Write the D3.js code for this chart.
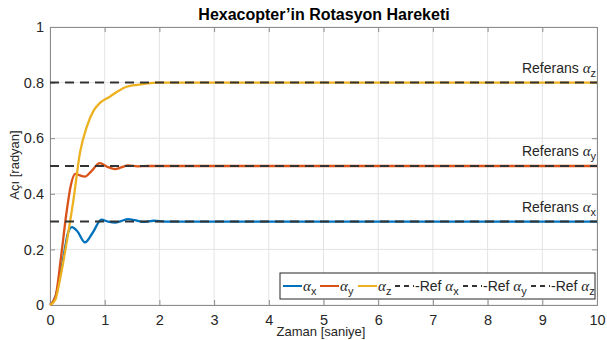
<!DOCTYPE html>
<html lang="tr">
  <head>
    <script src="https://d3js.org/d3.v7.min.js"></script>
    <meta charset="utf-8">
    <title>Hexacopter'in Rotasyon Hareketi</title>
    <style>
      body { margin: 0; background: #fff; }
      text { font-family: "Liberation Sans", Arial, sans-serif; fill: #262626; }
      .alpha { font-family: "Liberation Serif", "DejaVu Serif", serif; font-style: italic; }
    </style>
  </head>
  <body>
    <svg id="chart"></svg>

    <script type="text/javascript">

     // time (s) and angle (rad)
     var tX = [0, 0.1, 0.2, 0.27, 0.33, 0.4, 0.5, 0.64, 0.78, 0.94, 1.06, 1.19, 1.3, 1.43, 1.55, 1.7, 1.9, 2.1, 2.5, 10];
     var alphaX = [0, 0.03, 0.12, 0.2, 0.26, 0.28, 0.265, 0.225, 0.26, 0.307, 0.3, 0.296, 0.302, 0.309, 0.305, 0.299, 0.303, 0.3, 0.3, 0.3];

     var tY = [0, 0.1, 0.2, 0.3, 0.38, 0.46, 0.55, 0.64, 0.75, 0.91, 1.05, 1.19, 1.3, 1.43, 1.6, 1.8, 2.2, 10];
     var alphaY = [0, 0.03, 0.17, 0.33, 0.43, 0.472, 0.466, 0.462, 0.48, 0.51, 0.497, 0.489, 0.495, 0.502, 0.499, 0.5, 0.5, 0.5];

     var tZ = [0, 0.1, 0.18, 0.3, 0.43, 0.55, 0.67, 0.8, 0.91, 1.1, 1.25, 1.4, 1.6, 1.95, 2.5, 10];
     var alphaZ = [0, 0.02, 0.09, 0.22, 0.38, 0.55, 0.64, 0.7, 0.726, 0.75, 0.77, 0.785, 0.792, 0.8, 0.8, 0.8];

     var refs = [0.3, 0.5, 0.8];
     var refSubs = ["x", "y", "z"];
     var colors = ["#0072BD", "#D95319", "#EDB120"];

     var xTicks = [0, 1, 2, 3, 4, 5, 6, 7, 8, 9, 10];
     var yTicks = [0, 0.2, 0.4, 0.6, 0.8, 1];

     var width = 607;
     var height = 340;
     var plotLeft = 50, plotRight = 597, plotTop = 27, plotBottom = 305;

     var svg = d3.select("#chart")
       .attr("width", width)
       .attr("height", height);

     var x = d3.scaleLinear().domain([0, 10]).range([plotLeft, plotRight]);
     var y = d3.scaleLinear().domain([0, 1]).range([plotBottom, plotTop]);

     // grid
     svg.append("g").selectAll("line")
       .data(xTicks)
       .enter()
       .append("line")
       .attr("x1", function(d) { return x(d); })
       .attr("x2", function(d) { return x(d); })
       .attr("y1", plotTop)
       .attr("y2", plotBottom)
       .attr("stroke", "#e3e3e3");
     svg.append("g").selectAll("line")
       .data(yTicks)
       .enter()
       .append("line")
       .attr("x1", plotLeft)
       .attr("x2", plotRight)
       .attr("y1", function(d) { return y(d); })
       .attr("y2", function(d) { return y(d); })
       .attr("stroke", "#e3e3e3");

     // axes
     svg.append("g")
       .attr("transform", "translate(0," + plotBottom + ")")
       .call(d3.axisBottom(x).tickValues(xTicks).tickSize(-5).tickPadding(10).tickFormat(d3.format("d")));
     svg.append("g")
       .attr("transform", "translate(" + plotLeft + ",0)")
       .call(d3.axisLeft(y).tickValues(yTicks).tickSize(-5).tickPadding(6).tickFormat(function(d) { return d === 0 || d === 1 ? d : d3.format(".1f")(d); }));
     svg.append("g")
       .attr("transform", "translate(0," + plotTop + ")")
       .call(d3.axisTop(x).tickValues(xTicks).tickSize(-5).tickFormat(""));
     svg.append("g")
       .attr("transform", "translate(" + plotRight + ",0)")
       .call(d3.axisRight(y).tickValues(yTicks).tickSize(-5).tickFormat(""));

     svg.selectAll(".domain").attr("stroke", "#8c8c8c");
     svg.selectAll(".tick line").attr("stroke", "#8c8c8c");
     svg.selectAll(".tick text")
       .style("font-family", "'Liberation Sans', Arial, sans-serif")
       .style("font-size", "14.5px")
       .attr("fill", "#333");

     // curves
     var line = d3.line()
       .x(function(d) { return x(d[0]); })
       .y(function(d) { return y(d[1]); })
       .curve(d3.curveMonotoneX);

     var series = [d3.zip(tX, alphaX), d3.zip(tY, alphaY), d3.zip(tZ, alphaZ)];
     svg.append("g").selectAll("path")
       .data(series)
       .enter()
       .append("path")
       .attr("d", line)
       .attr("fill", "none")
       .attr("stroke", function(d, i) { return colors[i]; })
       .attr("stroke-width", 2.3);

     // reference lines
     svg.append("g").selectAll("line")
       .data(refs)
       .enter()
       .append("line")
       .attr("x1", x(0))
       .attr("x2", x(10))
       .attr("y1", function(d) { return y(d); })
       .attr("y2", function(d) { return y(d); })
       .attr("stroke", "#333")
       .attr("stroke-width", 2)
       .attr("stroke-dasharray", "9,6");

     // reference labels
     var refLabel = svg.append("g").selectAll("text")
       .data(refs)
       .enter()
       .append("text")
       .attr("x", plotRight - 1)
       .attr("y", function(d) { return y(d) - 10; })
       .attr("text-anchor", "end")
       .style("font-size", "14px");
     refLabel.append("tspan").text("Referans ");
     refLabel.append("tspan").attr("class", "alpha").style("font-size", "15px").text("α");
     refLabel.append("tspan").attr("dy", 4).style("font-size", "11px").text(function(d, i) { return refSubs[i]; });

     // title and axis labels
     svg.append("text")
       .attr("x", 324)
       .attr("y", 20)
       .attr("text-anchor", "middle")
       .style("font-size", "16px")
       .style("font-weight", "bold")
       .style("fill", "#000")
       .text("Hexacopter’in Rotasyon Hareketi");

     svg.append("text")
       .attr("x", 321)
       .attr("y", 336)
       .attr("text-anchor", "middle")
       .style("font-size", "13px")
       .text("Zaman [saniye]");

     svg.append("text")
       .attr("transform", "translate(19,165) rotate(-90)")
       .attr("text-anchor", "middle")
       .style("font-size", "13px")
       .text("Açı [radyan]");

     // legend
     var legend = svg.append("g");
     legend.append("rect")
       .attr("x", 280)
       .attr("y", 273)
       .attr("width", 315)
       .attr("height", 26)
       .attr("fill", "#fff")
       .attr("stroke", "#262626")
       .attr("stroke-width", 1);

     var legendItems = [
       { x: 283, color: colors[0], dash: null, label: "", sub: "x" },
       { x: 320, color: colors[1], dash: null, label: "", sub: "y" },
       { x: 358, color: colors[2], dash: null, label: "", sub: "z" },
       { x: 395, color: "#333", dash: "5,4", label: "Ref ", sub: "x" },
       { x: 463, color: "#333", dash: "5,4", label: "Ref ", sub: "y" },
       { x: 531, color: "#333", dash: "5,4", label: "Ref ", sub: "z" }
     ];

     legendItems.forEach(function(d) {
       legend.append("line")
         .attr("x1", d.x)
         .attr("x2", d.x + 19)
         .attr("y1", 286)
         .attr("y2", 286)
         .attr("stroke", d.color)
         .attr("stroke-width", 2)
         .attr("stroke-dasharray", d.dash);
       var t = legend.append("text")
         .attr("x", d.x + 20)
         .attr("y", 291)
         .style("font-size", "14px");
       if (d.label) t.append("tspan").text("-" + d.label);
       t.append("tspan").attr("class", "alpha").style("font-size", "15px").text("α");
       t.append("tspan").attr("dy", 4).style("font-size", "11px").text(d.sub);
     });

     </script>
  </body>
</html>
